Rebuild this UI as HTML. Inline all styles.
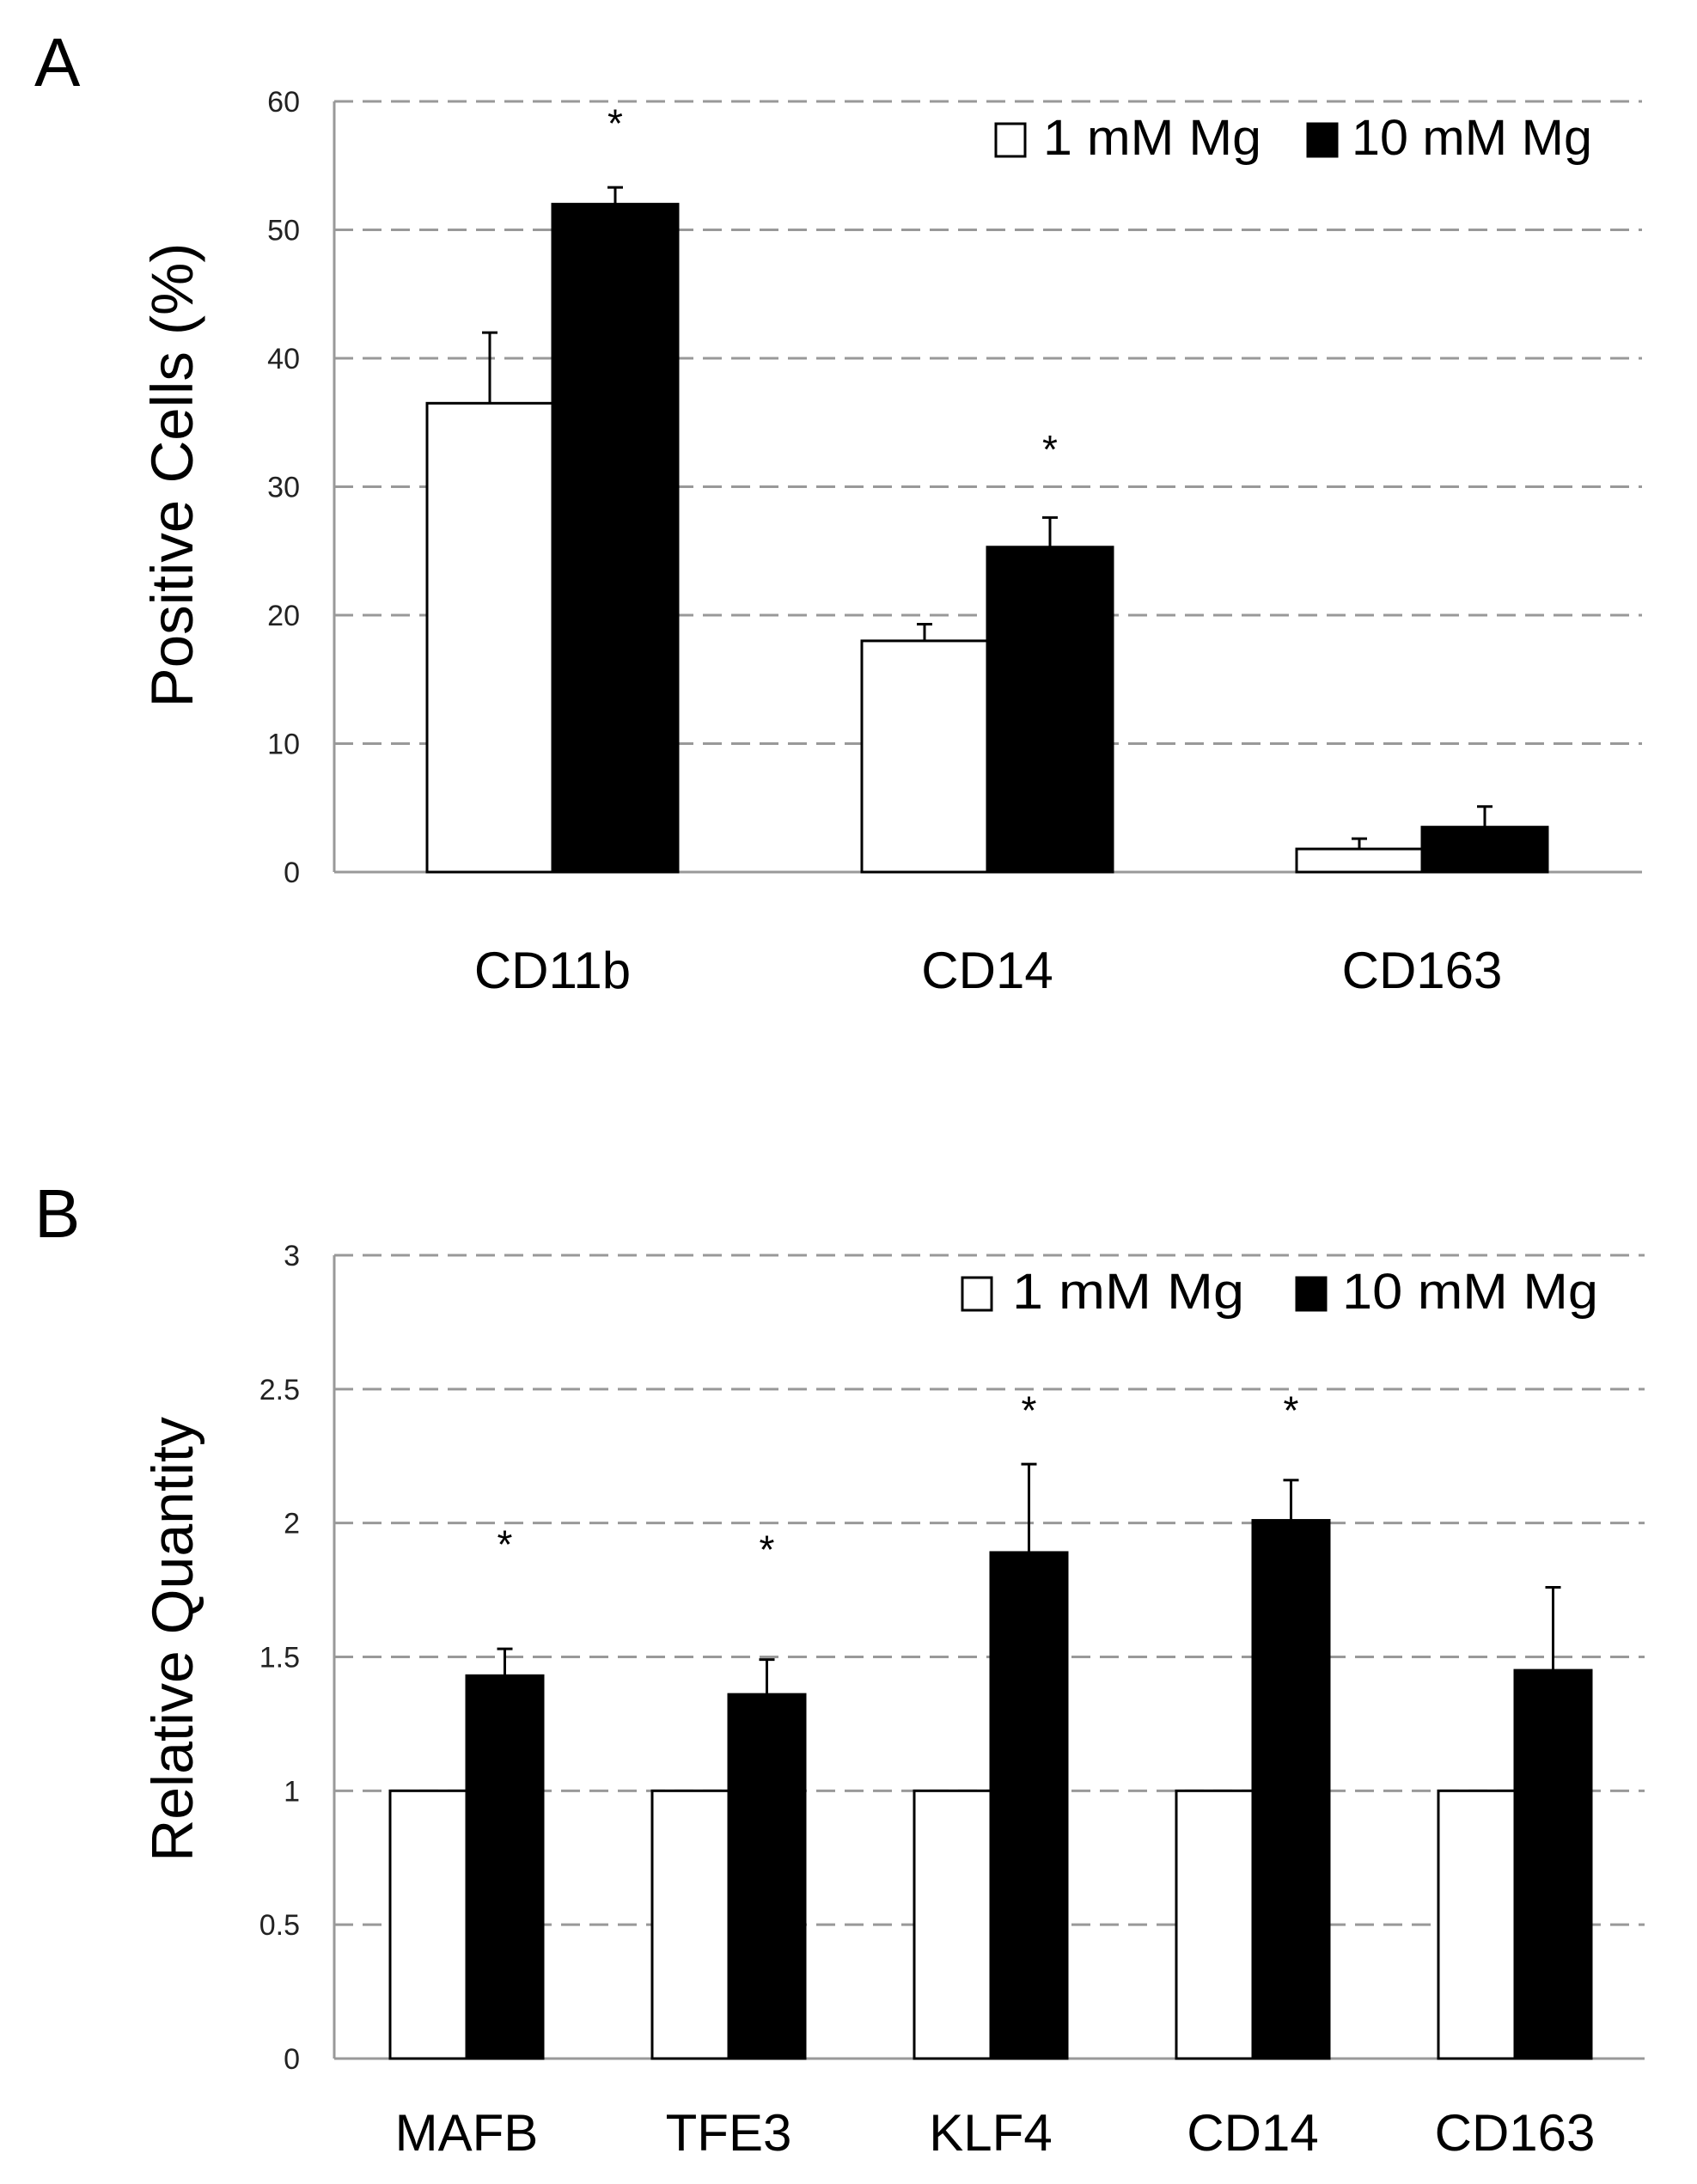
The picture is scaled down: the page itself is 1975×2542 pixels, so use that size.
<!DOCTYPE html>
<html><head><meta charset="utf-8"><style>
html,body{margin:0;padding:0;background:#fff;}
svg{display:block;font-family:"Liberation Sans",sans-serif;}
</style></head><body>
<svg id="fig" width="1975" height="2542" viewBox="0 0 1975 2542" xmlns="http://www.w3.org/2000/svg">
<text x="40" y="100" font-size="80">A</text>
<text x="40" y="1440" font-size="80">B</text>
<text transform="translate(224,553) rotate(-90)" text-anchor="middle" font-size="69">Positive Cells (%)</text>
<text transform="translate(224,1908) rotate(-90)" text-anchor="middle" font-size="68">Relative Quantity</text>
<g id="ga"></g><g id="gb"></g>
</svg>
<script>
const catsA = ["CD11b","CD14","CD163"];
const lowA = [36.5,18,1.8];
const lowErrA = [5.5,1.3,0.8];
const highA = [52,25.3,3.5];
const highErrA = [1.3,2.3,1.6];
const starA = [58.7,33.3,null];
const ticksA = ["0","10","20","30","40","50","60"];

const catsB = ["MAFB","TFE3","KLF4","CD14","CD163"];
const lowB = [1,1,1,1,1];
const lowErrB = [0,0,0,0,0];
const highB = [1.43,1.36,1.89,2.01,1.45];
const highErrB = [0.10,0.13,0.33,0.15,0.31];
const starB = [1.94,1.92,2.44,2.44,null];
const ticksB = ["0","0.5","1","1.5","2","2.5","3"];

const NS="http://www.w3.org/2000/svg";
function mk(p,tag,at){const e=document.createElementNS(NS,tag);for(const k in at)e.setAttribute(k,at[k]);p.appendChild(e);return e;}

function panel(g,cfg){
  const y=v=>cfg.y0-(v-cfg.min)/(cfg.max-cfg.min)*(cfg.y0-cfg.yTop);
  const n=cfg.cats.length;
  cfg.ticks.forEach(t=>{
    const v=parseFloat(t);const yy=y(v);
    if(v>cfg.min){const l=mk(g,"line",{x1:cfg.x0,x2:cfg.x1,y1:yy,y2:yy,stroke:"#999","stroke-width":3,"stroke-dasharray":"22 11"});
    
    }
    const tx=mk(g,"text",{x:cfg.x0-40,y:yy+12,"text-anchor":"end","font-size":34,fill:"#222"});
    tx.textContent=t;
    
    
  });
  const ax=mk(g,"line",{x1:cfg.x0,x2:cfg.x0,y1:cfg.yTop,y2:cfg.y0,stroke:"#999","stroke-width":3});
  
  
  const bx=mk(g,"line",{x1:cfg.x0,x2:cfg.x1,y1:cfg.y0,y2:cfg.y0,stroke:"#999","stroke-width":3});
  
  
  for(let i=0;i<n;i++){
    const c=cfg.c0+i*cfg.sp;
    [[cfg.low,cfg.lowErr,"#fff",c-cfg.bw,"bar-1mm"],[cfg.high,cfg.highErr,"#000",c,"bar-10mm"]].forEach(([vals,errs,fill,x,name])=>{
      const v=vals[i],top=y(v);
      const r=mk(g,"rect",{x:x,y:top,width:cfg.bw,height:cfg.y0-top,fill:fill,stroke:"#000","stroke-width":3});
      
      
      if(errs[i]>0){
        const et=y(v+errs[i]);const ex=x+cfg.bw/2;
        const e=mk(g,"path",{d:`M${ex},${top} V${et} M${ex-9},${et} H${ex+9}`,stroke:"#000","stroke-width":3,fill:"none"});
        
        
      }
    });
    if(cfg.star[i]!==null){
      const s=mk(g,"text",{x:c+cfg.bw/2,y:y(cfg.star[i])+22,"text-anchor":"middle","font-size":46});
      s.textContent="*";
      
      
    }
    const l=mk(g,"text",{x:c,y:cfg.labY,"text-anchor":"middle","font-size":60});
    l.textContent=cfg.cats[i];
    
    
  }
  const L=cfg.leg;
  const s1=mk(g,"rect",{x:L.x1,y:L.y,width:34,height:38,fill:"#fff",stroke:"#000","stroke-width":3});
  
  
  const t1=mk(g,"text",{x:L.t1,y:L.y+36,"font-size":58,textLength:L.w1,lengthAdjust:"spacingAndGlyphs"});
  t1.textContent="1 mM Mg";
  
  
  const s2=mk(g,"rect",{x:L.x2,y:L.y,width:34,height:38,fill:"#000",stroke:"#000","stroke-width":3});
  
  
  const t2=mk(g,"text",{x:L.t2,y:L.y+36,"font-size":58,textLength:L.w2,lengthAdjust:"spacingAndGlyphs"});
  t2.textContent="10 mM Mg";
  
  
}
panel(document.getElementById("ga"),{cats:catsA,low:lowA,lowErr:lowErrA,high:highA,highErr:highErrA,star:starA,ticks:ticksA,
  min:0,max:60,x0:389,x1:1911,yTop:118,y0:1015,c0:643,sp:506,bw:146,labY:1150,
  leg:{x1:1159,y:144,t1:1214,w1:254,x2:1522,t2:1573,w2:280}});
panel(document.getElementById("gb"),{cats:catsB,low:lowB,lowErr:lowErrB,high:highB,highErr:highErrB,star:starB,ticks:ticksB,
  min:0,max:3,x0:389,x1:1914,yTop:1461,y0:2396,c0:543,sp:305,bw:89,labY:2503,
  leg:{x1:1120,y:1487,t1:1178,w1:270,x2:1509,t2:1562,w2:298}});
</script>
</body></html>
